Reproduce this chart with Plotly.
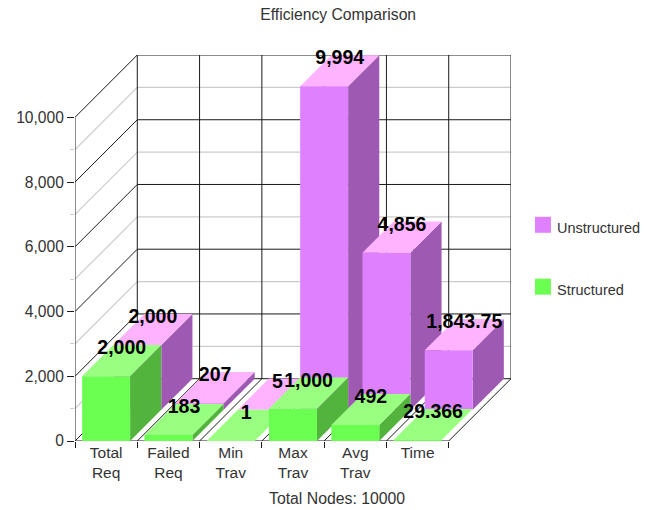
import plotly.graph_objects as go

categories = ["Total<br>Req", "Failed<br>Req", "Min<br>Trav", "Max<br>Trav", "Avg<br>Trav", "Time"]
structured = [2000, 183, 1, 1000, 492, 29.366]
unstructured = [2000, 207, 5, 9994, 4856, 1843.75]
y_ticks = [0, 2000, 4000, 6000, 8000, 10000]
y_minor_ticks = [1000, 3000, 5000, 7000, 9000]

# Oblique projection: one unit of depth moves a point right by one category
# and up by DEPTH_VALUE on the value axis.
DEPTH_VALUE = 1925
BAR_MARGIN = 0.115
Y_MAX = 10000
N = len(categories)

GREEN = {"front": "#6BFF52", "top": "#99FF80", "side": "#52B33D"}
PURPLE = {"front": "#DF80FF", "top": "#FFB3FF", "side": "#9E59B3"}


def project(x, value, depth):
    return x + depth, value + depth * DEPTH_VALUE


def polygon(points, color):
    xs, ys = zip(*(project(*p) for p in points + points[:1]))
    return go.Scatter(x=xs, y=ys, mode="lines", fill="toself", fillcolor=color,
                      line=dict(width=0, color=color), hoverinfo="skip", showlegend=False)


def line_trace(segments, color, width=1):
    xs, ys = [], []
    for a, b in segments:
        pa, pb = project(*a), project(*b)
        xs += [pa[0], pb[0], None]
        ys += [pa[1], pb[1], None]
    return go.Scatter(x=xs, y=ys, mode="lines", line=dict(color=color, width=width),
                      hoverinfo="skip", showlegend=False)


def bar_faces(i, value, d0, d1, palette):
    x0, x1 = i + BAR_MARGIN, i + 1 - BAR_MARGIN
    return [
        polygon([(x1, 0, d0), (x1, 0, d1), (x1, value, d1), (x1, value, d0)], palette["side"]),
        polygon([(x0, value, d0), (x1, value, d0), (x1, value, d1), (x0, value, d1)], palette["top"]),
        polygon([(x0, 0, d0), (x1, 0, d0), (x1, value, d0), (x0, value, d0)], palette["front"]),
    ]


def bar_label(i, value, d1):
    # Centred over the top face, vertically just below its rear edge
    x = i + 0.5 + d1 - 0.25
    return x, value + d1 * DEPTH_VALUE - 135


fig = go.Figure()

# Walls and floor
fig.add_trace(line_trace(
    [((0, v, 1), (N, v, 1)) for v in y_minor_ticks]
    + [((0, v, 0), (0, v, 1)) for v in y_minor_ticks], "#CCCCCC", 1.2))
fig.add_trace(line_trace(
    [((0, v, 1), (N, v, 1)) for v in y_ticks]
    + [((0, v, 0), (0, v, 1)) for v in y_ticks]
    + [((i, 0, 1), (i, Y_MAX, 1)) for i in range(N + 1)]
    + [((i, 0, 0), (i, 0, 1)) for i in range(N + 1)]
    + [((0, 0, 0), (0, Y_MAX, 0)), ((0, 0, 0), (N, 0, 0))], "#1A1A1A", 1))

# Rear row first, then the front row, each from left to right
for i, v in enumerate(unstructured):
    for face in bar_faces(i, v, 0.5, 1, PURPLE):
        fig.add_trace(face)
for i, v in enumerate(structured):
    for face in bar_faces(i, v, 0, 0.5, GREEN):
        fig.add_trace(face)

# Value labels sit on the rear edge of each bar's top face
label_x, label_y, label_text = [], [], []
for values, d1 in ((unstructured, 1), (structured, 0.5)):
    for i, v in enumerate(values):
        x, y = bar_label(i, v, d1)
        label_x.append(x)
        label_y.append(y)
        label_text.append(f"{v:,}")
fig.add_trace(go.Scatter(
    x=label_x, y=label_y, text=label_text, mode="text", textposition="middle center",
    textfont=dict(family="Liberation Sans", size=19.5, color="#000000", weight="bold"),
    cliponaxis=False, hoverinfo="skip", showlegend=False))

# Legend swatches and names
legend_items = [("Unstructured", PURPLE["front"], 225), ("Structured", GREEN["front"], 287)]
shapes, annotations = [], []
for name, color, cy in legend_items:
    shapes.append(dict(type="rect", xref="paper", yref="paper", layer="above",
                       x0=(535 - 74.5) / 436.5, x1=(551 - 74.5) / 436.5,
                       y0=(441.5 - cy - 8) / 386.5, y1=(441.5 - cy + 8) / 386.5,
                       fillcolor=color, line=dict(width=0)))
    annotations.append(dict(text=name, xref="paper", yref="paper", showarrow=False,
                            x=(555 - 74.5) / 436.5, xanchor="left",
                            y=(441.5 - cy - 3) / 386.5, yanchor="middle",
                            font=dict(family="Liberation Sans", size=14.5, color="#333333")))
annotations.append(dict(text="Total Nodes: 10000", xref="paper", yref="paper", showarrow=False,
                        x=(337 - 74.5) / 436.5, xanchor="center",
                        y=(441.5 - 499.5) / 386.5, yanchor="middle",
                        font=dict(family="Liberation Sans", size=15.8, color="#333333")))

fig.update_layout(
    width=656, height=510, autosize=False,
    margin=dict(l=74.5, r=145, t=55, b=68.5, pad=0),
    paper_bgcolor="white", plot_bgcolor="white", showlegend=False,
    title=dict(text="Efficiency Comparison", xref="paper", x=(338 - 74.5) / 436.5, xanchor="center",
               yref="container", y=1 - 15 / 510, yanchor="middle",
               font=dict(family="Liberation Sans", size=15.7, color="#333333")),
    shapes=shapes, annotations=annotations,
    xaxis=dict(range=[0, N + 1], showgrid=False, zeroline=False, showline=False,
               tickmode="array", tickvals=[i + 0.5 for i in range(N)], ticktext=categories,
               ticks="", tickangle=0,
               tickfont=dict(family="Liberation Sans", size=15.5, color="#333333"),
               minor=dict(tickmode="array", tickvals=list(range(N + 1)), ticks="outside",
                          ticklen=6, tickcolor="#1A1A1A", tickwidth=1, showgrid=False)),
    yaxis=dict(range=[0, Y_MAX + DEPTH_VALUE], showgrid=False, zeroline=False, showline=False,
               tickmode="array", tickvals=y_ticks, tickformat=",", ticks="outside", ticklen=7,
               tickcolor="#1A1A1A", tickwidth=1,
               tickfont=dict(family="Liberation Sans", size=15.6, color="#333333"),
               minor=dict(tickmode="array", tickvals=y_minor_ticks, ticks="outside",
                          ticklen=4, tickcolor="#CCCCCC", tickwidth=1, showgrid=False)),
)

fig.write_html("out.html")
